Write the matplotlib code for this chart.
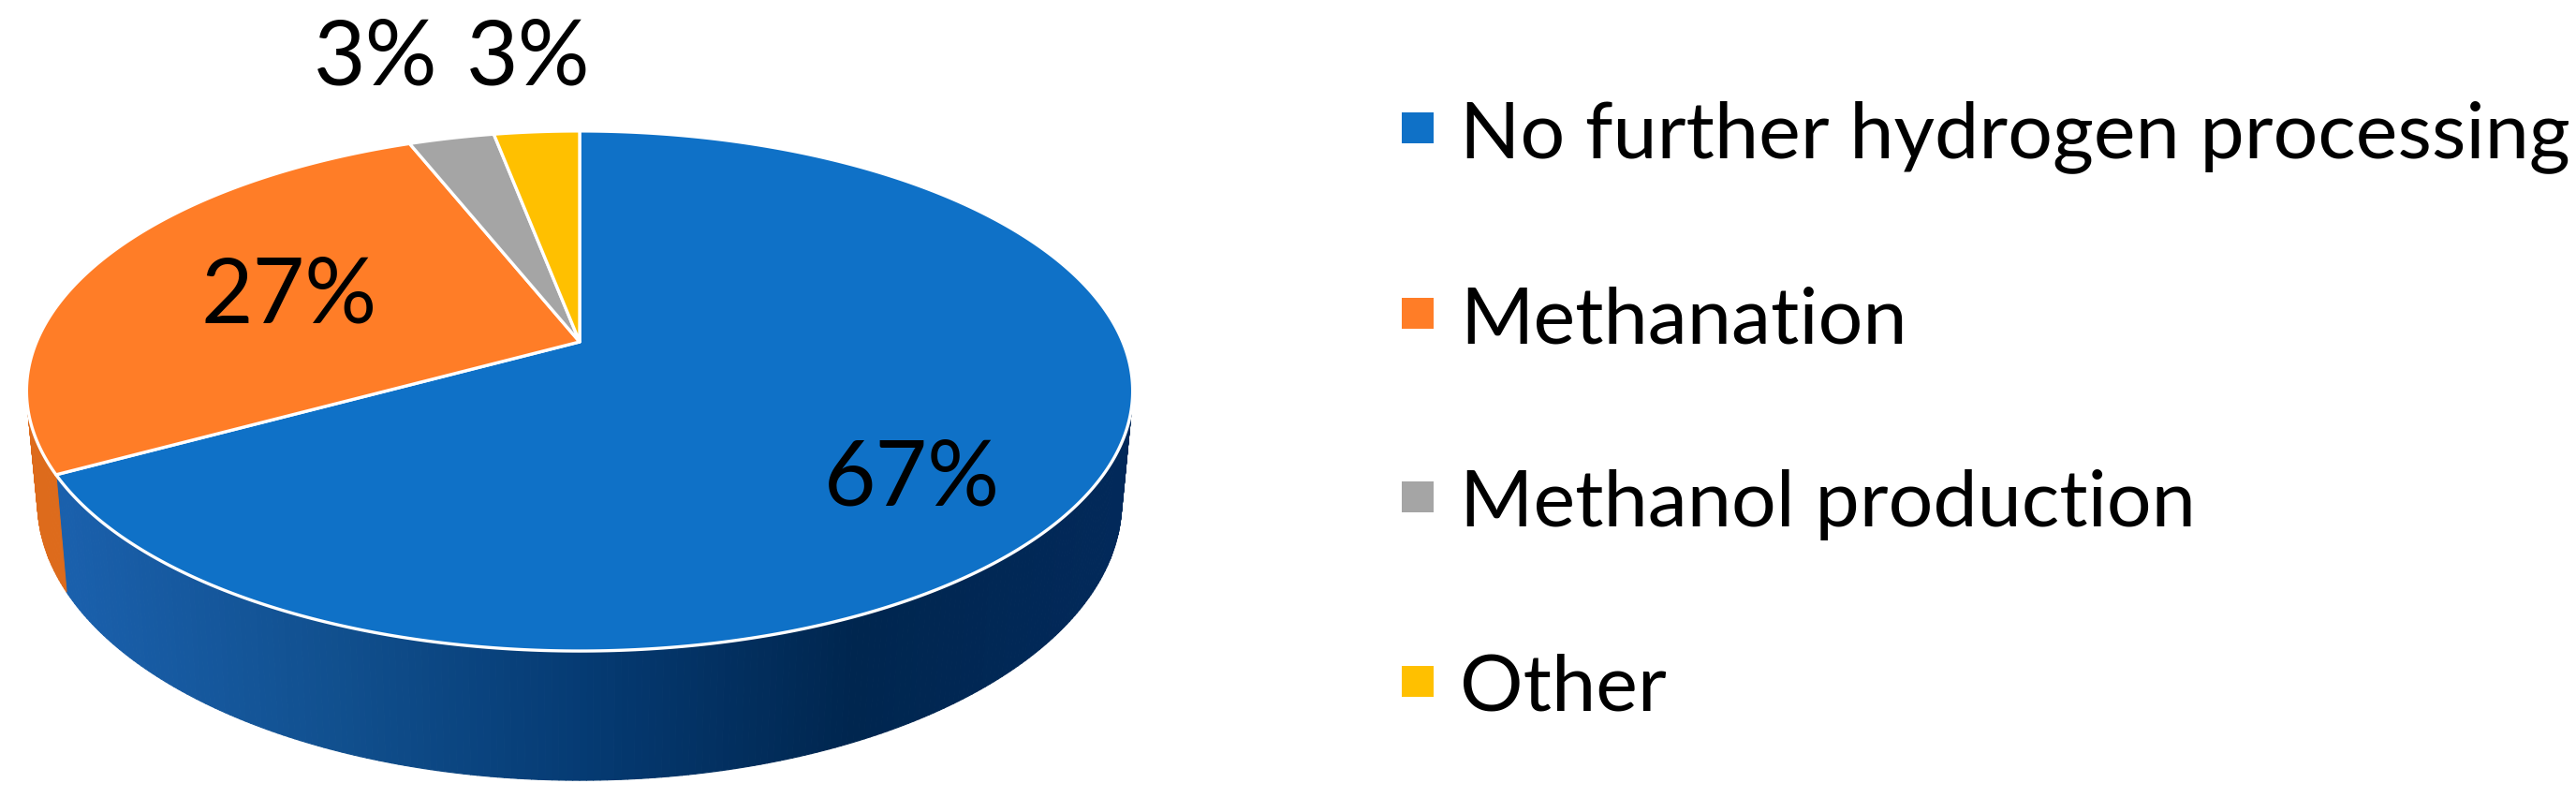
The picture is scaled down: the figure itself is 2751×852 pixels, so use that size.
import numpy as np
import matplotlib
matplotlib.use("Agg")
import matplotlib.pyplot as plt
from matplotlib.collections import PolyCollection
from matplotlib.colors import LinearSegmentedColormap
from matplotlib.patches import Patch

# ---- data ----
categories = ["No further hydrogen processing", "Methanation", "Methanol production", "Other"]
shares = [67, 27, 3, 3]
labels = ["67%", "27%", "3%", "3%"]
colors = ["#0F71C7", "#FF7D27", "#A5A5A5", "#FFC000"]
side_colors = [None, "#DD6B1C", "#8C8C8C", "#D9A300"]
blue_wall_stops = ["#1A60AC", "#11508F", "#053A72", "#00264F", "#02295A"]

# ---- geometry (figure pixels) ----
W, H = 2751, 853
CX, CY = 619.0, 366.0
A_X, A_Y, K = 580.0, -198.5, 0.189
LABEL_POS = [(974, 513), (309, 317), (401, 63), (564, 63)]
LABEL_PX = 96
LEGEND_PX = 84.5
ROW_PX = 198

plt.rcParams["font.family"] = ["Lato", "DejaVu Sans"]
fig = plt.figure(figsize=(W / 100, H / 100), dpi=100, facecolor="white")
ax = fig.add_axes([0, 0, 1, 1])
ax.set_xlim(0, W)
ax.set_ylim(H, 0)
ax.axis("off")


def project(theta):
    """Clockwise angle from 12 o'clock on the unit disc to the tilted top face."""
    u, v = np.sin(theta), np.cos(theta)
    d = 1 + K * v
    return CX + A_X * u / d, (A_Y * v + CY) / d


def lower(x, y):
    """Rim point to the matching point on the lower edge of the side wall."""
    return CX + (x - CX) * 0.98, y + 125 + 0.069 * (y - 507)


fracs = np.array(shares) / np.sum(shares)
edges = np.concatenate([[0], np.cumsum(fracs)]) * 2 * np.pi
wall_cmap = LinearSegmentedColormap.from_list("wall", blue_wall_stops)

# side wall, one narrow strip per step so the shading can follow x
for i in range(len(shares)):
    th = np.linspace(edges[i], edges[i + 1], max(int(shares[i] * 6), 6) + 1)
    x, y = project(th)
    xl, yl = lower(x, y)
    polys = [[(x[j], y[j]), (x[j + 1], y[j + 1]), (xl[j + 1], yl[j + 1]), (xl[j], yl[j])]
             for j in range(len(th) - 1)]
    if side_colors[i] is None:
        cols = [wall_cmap(np.clip((x[j] - 70) / 1130, 0, 1)) for j in range(len(th) - 1)]
    else:
        cols = side_colors[i]
    ax.add_collection(PolyCollection(polys, facecolors=cols, edgecolors=cols, linewidths=0.8, zorder=1))

# top face
for i in range(len(shares)):
    th = np.linspace(edges[i], edges[i + 1], max(int(shares[i] * 6), 12) + 1)
    x, y = project(th)
    ax.fill(np.r_[CX, x], np.r_[CY, y], facecolor=colors[i], edgecolor="white",
            linewidth=2.4, joinstyle="round", zorder=2)

# labels
for text, (lx, ly) in zip(labels, LABEL_POS):
    ax.text(lx, ly, text, fontsize=LABEL_PX * 0.72, ha="center", va="center",
            color="black", zorder=3)

# legend
handles = [Patch(facecolor=c, edgecolor="none") for c in colors]
ax.legend(handles, categories, loc="upper left", bbox_to_anchor=(1497 / W, 1 - 107 / H),
          frameon=False, fontsize=LEGEND_PX * 0.72, borderpad=0, borderaxespad=0,
          handlelength=34 / LEGEND_PX, handleheight=0.224,
          handletextpad=28 / LEGEND_PX, labelspacing=(ROW_PX - LEGEND_PX * 0.92) / LEGEND_PX)

fig.savefig("out.png", dpi=100, facecolor="white")
